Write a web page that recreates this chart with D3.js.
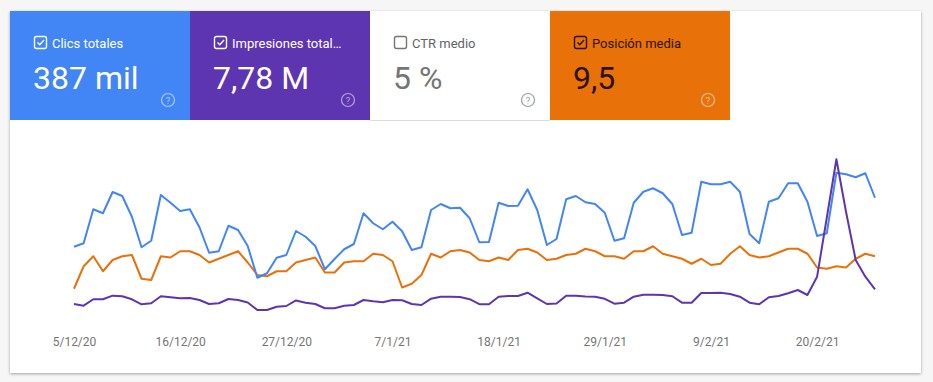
<!DOCTYPE html>
<html><head><meta charset="utf-8">
<script src="https://cdn.jsdelivr.net/npm/d3@7"></script>
<style>
html,body{margin:0;padding:0;background:#f6f6f6;}
svg{display:block;font-family:Roboto,"Noto Sans",sans-serif;}
</style></head>
<body><div id="chart"></div>
<script>
// ---- data ----
const startDate = "5/12/20";
const clicks = [3330,3470,4830,4670,5520,5360,4530,3310,3570,5400,5090,4760,4830,4110,3090,3150,4170,4000,3360,2090,2270,2890,3000,3960,3730,3360,2430,2840,3230,3440,4670,4270,4030,4330,3950,3200,3310,4800,5040,4870,4890,4470,3510,3520,5090,4960,4970,5630,4800,3400,3640,5230,5360,5110,5040,4690,3570,3670,5090,5530,5670,5470,5040,3800,3890,5930,5830,5830,5930,5530,3840,3470,5130,5270,5870,5870,5130,3760,3870,6290,6230,6110,6270,5290];
const impressions = [65000,60800,76800,76800,85800,84300,76800,64300,66800,84300,81800,79500,80000,75000,65000,66800,77500,75000,68800,50000,50000,58300,60000,73800,68300,65000,54300,54300,60500,62500,75000,71800,69300,75000,74300,65000,62500,78300,83300,83300,82500,77000,64500,64500,83300,85000,85000,93300,79300,65000,66300,85500,85500,83800,83300,78000,65800,68300,83300,88300,88300,87500,84300,68300,68300,92500,92500,93300,90000,83300,68300,64300,81800,85000,91800,100000,87500,133300,280000,426800,295000,175000,133300,101800];
const position = [10.7,8.9,8.1,9.3,8.4,8.1,8.0,9.9,10.0,8.1,8.2,7.7,7.7,8.0,8.6,8.3,8.0,7.7,8.6,9.6,9.7,9.3,9.3,8.6,8.4,8.2,9.4,9.4,8.6,8.5,8.5,7.9,8.0,8.5,10.6,10.3,9.6,7.9,8.2,7.7,7.6,7.8,8.4,8.5,8.2,8.4,7.6,7.5,7.8,8.4,8.3,8.0,7.9,7.5,7.7,8.1,8.1,8.3,7.7,7.7,7.3,7.9,8.1,8.3,8.7,8.3,8.8,8.7,7.9,7.3,8.0,8.2,8.1,7.8,7.5,7.5,7.9,9.0,9.1,8.9,9.0,8.3,7.9,8.1];
const tickLabels = ["5/12/20","16/12/20","27/12/20","7/1/21","18/1/21","29/1/21","9/2/21","20/2/21"];
const tileLabels = ["Clics totales","Impresiones total\u2026","CTR medio","Posición media"];
const tileValues = ["387 mil","7,78 M","5 %","9,5"];
const tileChecked = [true,true,false,true];

// ---- setup ----
const W = 933, H = 382;
const parse = d3.timeParse("%d/%m/%y");
const t0 = parse(startDate);
const dates = clicks.map((_, i) => d3.timeDay.offset(t0, i));
const fmt = d => `${d.getDate()}/${d.getMonth()+1}/${String(d.getFullYear()).slice(2)}`;

const svg = d3.select("#chart").append("svg").attr("width", W).attr("height", H);
const defs = svg.append("defs");
const f = defs.append("filter").attr("id","sh").attr("x","-5%").attr("y","-5%").attr("width","110%").attr("height","115%");
f.append("feDropShadow").attr("dx",0).attr("dy",1).attr("stdDeviation",1.5).attr("flood-color","#000").attr("flood-opacity",0.35);

// card
svg.append("rect").attr("x",10).attr("y",11).attr("width",911).attr("height",362)
  .attr("fill","#fff").attr("filter","url(#sh)");

// tiles
const tileBg = ["#4285f4","#5e35b1","#fff","#e8710a"];
const tileFg = ["#fff","#fff","#5f6368","#2a1400"];
const valFg = ["#fff","#fff","#757575","#2a1400"];
const helpFg = ["rgba(255,255,255,0.55)","rgba(255,255,255,0.55)","#9aa0a6","rgba(255,255,255,0.55)"];
const tileW = 180, tileX0 = 10, tileY = 11, tileH = 109;
svg.append("line").attr("x1",370).attr("x2",550).attr("y1",120.5).attr("y2",120.5).attr("stroke","#dadce0");
const tiles = svg.selectAll("g.tile").data(tileLabels).join("g").attr("class","tile")
  .attr("transform",(d,i)=>`translate(${tileX0 + i*tileW},${tileY})`);
tiles.append("rect").attr("width",tileW).attr("height",tileH).attr("fill",(d,i)=>tileBg[i]);
tiles.append("rect").attr("x",24.5).attr("y",25.5).attr("width",12).attr("height",12).attr("rx",2)
  .attr("fill","none").attr("stroke",(d,i)=>tileChecked[i]?tileFg[i]:"#757575").attr("stroke-width",1.4);
tiles.filter((d,i)=>tileChecked[i]).append("path").attr("d","M27.5,31.5 L29.8,33.8 L34,29")
  .attr("fill","none").attr("stroke",(d,i)=>tileFg[tileLabels.indexOf(d)]).attr("stroke-width",1.4);
tiles.append("text").attr("x",42).attr("y",36.5).attr("font-size",13).attr("fill",(d,i)=>tileFg[i]).text(d=>d);
tiles.append("text").attr("x",23).attr("y",78).attr("font-size",32).attr("fill",(d,i)=>valFg[i]).text((d,i)=>tileValues[i]);
tiles.append("circle").attr("cx",158).attr("cy",89).attr("r",6.5).attr("fill","none")
  .attr("stroke",(d,i)=>helpFg[i]).attr("stroke-width",1.2);
tiles.append("text").attr("x",158).attr("y",92.5).attr("text-anchor","middle").attr("font-size",9.5)
  .attr("fill",(d,i)=>helpFg[i]).text("?");

// scales
const x = d3.scaleTime().domain([dates[0], dates[dates.length-1]]).range([74, 875]);
const yClicks = d3.scaleLinear().domain([0, 7000]).range([330, 155]);
const yImpr = d3.scaleLinear().domain([0, 437500]).range([330, 155]);
const yPos = d3.scaleLinear().domain([0, 14]).range([155, 330]);

const series = [
  {vals: position, y: yPos, color: "#e8710a"},
  {vals: clicks, y: yClicks, color: "#4285f4"},
  {vals: impressions, y: yImpr, color: "#5e35b1"}
];
series.forEach(s => {
  const line = d3.line().x((d,i)=>x(dates[i])).y(d=>s.y(d));
  svg.append("path").datum(s.vals).attr("d", line).attr("fill","none")
    .attr("stroke", s.color).attr("stroke-width", 2).attr("stroke-linejoin","round");
});

// axis
const ax = svg.append("g").attr("transform","translate(0,330)")
  .call(d3.axisBottom(x).tickValues(tickLabels.map(parse)).tickFormat(fmt).tickSize(0).tickPadding(7));
ax.select(".domain").remove();
ax.selectAll("text").attr("font-size",12).attr("fill","#757575").attr("font-family","Roboto, sans-serif");
</script></body></html>
